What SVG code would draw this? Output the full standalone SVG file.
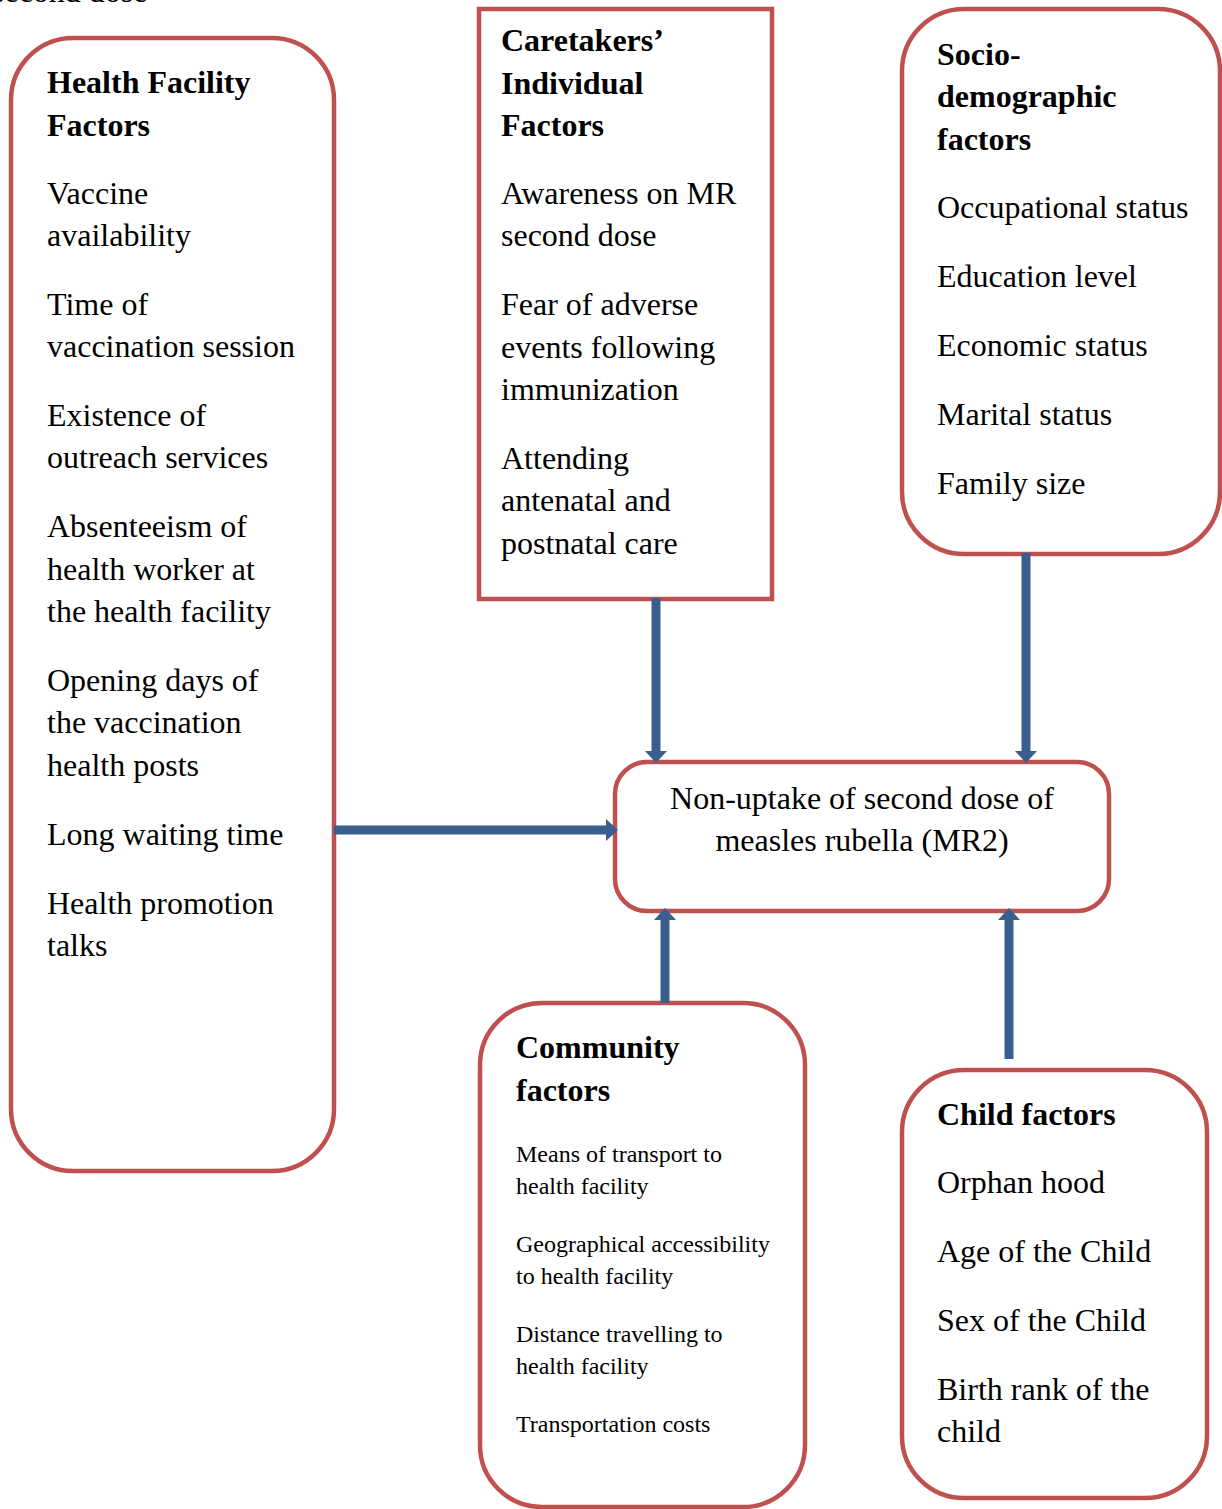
<svg xmlns="http://www.w3.org/2000/svg" width="1222" height="1509" viewBox="0 0 1222 1509">
<style>
.box{fill:#fff;stroke:#C0504D;stroke-width:4.5}
.t{font-family:"Liberation Serif","Times New Roman",serif;font-size:32px;fill:#000}
.b{font-weight:bold}
.s{font-size:24px}
.c{text-anchor:middle}
.arr{stroke:#3A5F8E;stroke-width:9;fill:none}
.head{fill:#3A5F8E}
</style>
<rect width="1222" height="1509" fill="#fff"/>
<text class="t" x="-8" y="2">second dose</text>

<g id="health-facility">
<rect class="box" x="11" y="38" width="323" height="1133" rx="62"/>
<text class="t b" x="47" y="93">Health Facility</text>
<text class="t b" x="47" y="136">Factors</text>
<text class="t" x="47" y="204">Vaccine</text>
<text class="t" x="47" y="246">availability</text>
<text class="t" x="47" y="315">Time of</text>
<text class="t" x="47" y="357">vaccination session</text>
<text class="t" x="47" y="426">Existence of</text>
<text class="t" x="47" y="468">outreach services</text>
<text class="t" x="47" y="537">Absenteeism of</text>
<text class="t" x="47" y="580">health worker at</text>
<text class="t" x="47" y="622">the health facility</text>
<text class="t" x="47" y="691">Opening days of</text>
<text class="t" x="47" y="733">the vaccination</text>
<text class="t" x="47" y="776">health posts</text>
<text class="t" x="47" y="845">Long waiting time</text>
<text class="t" x="47" y="914">Health promotion</text>
<text class="t" x="47" y="956">talks</text>
</g>

<g id="caretakers">
<rect class="box" x="479" y="9" width="293" height="590"/>
<text class="t b" x="501" y="51">Caretakers’</text>
<text class="t b" x="501" y="94">Individual</text>
<text class="t b" x="501" y="136">Factors</text>
<text class="t" x="501" y="204">Awareness on MR</text>
<text class="t" x="501" y="246">second dose</text>
<text class="t" x="501" y="315">Fear of adverse</text>
<text class="t" x="501" y="358">events following</text>
<text class="t" x="501" y="400">immunization</text>
<text class="t" x="501" y="469">Attending</text>
<text class="t" x="501" y="511">antenatal and</text>
<text class="t" x="501" y="554">postnatal care</text>
</g>

<g id="socio-demographic">
<rect class="box" x="902" y="9" width="318" height="545" rx="62"/>
<text class="t b" x="937" y="65">Socio-</text>
<text class="t b" x="937" y="107">demographic</text>
<text class="t b" x="937" y="150">factors</text>
<text class="t" x="937" y="218">Occupational status</text>
<text class="t" x="937" y="287">Education level</text>
<text class="t" x="937" y="356">Economic status</text>
<text class="t" x="937" y="425">Marital status</text>
<text class="t" x="937" y="494">Family size</text>
</g>

<g id="outcome">
<rect class="box" x="615" y="762" width="494" height="149" rx="32"/>
<text class="t c" x="862" y="809">Non-uptake of second dose of</text>
<text class="t c" x="862" y="851">measles rubella (MR2)</text>
</g>

<g id="community">
<rect class="box" x="480" y="1003" width="325" height="504" rx="62"/>
<text class="t b" x="516" y="1058">Community</text>
<text class="t b" x="516" y="1101">factors</text>
<text class="t s" x="516" y="1162">Means of transport to</text>
<text class="t s" x="516" y="1194">health facility</text>
<text class="t s" x="516" y="1252">Geographical accessibility</text>
<text class="t s" x="516" y="1284">to health facility</text>
<text class="t s" x="516" y="1342">Distance travelling to</text>
<text class="t s" x="516" y="1374">health facility</text>
<text class="t s" x="516" y="1432">Transportation costs</text>
</g>

<g id="child">
<rect class="box" x="902" y="1070" width="305" height="428" rx="62"/>
<text class="t b" x="937" y="1125">Child factors</text>
<text class="t" x="937" y="1193">Orphan hood</text>
<text class="t" x="937" y="1262">Age of the Child</text>
<text class="t" x="937" y="1331">Sex of the Child</text>
<text class="t" x="937" y="1400">Birth rank of the</text>
<text class="t" x="937" y="1442">child</text>
</g>

<g id="connectors">
<line class="arr" x1="656" y1="598" x2="656" y2="752"/>
<polygon class="head" points="645,751 667,751 656,763"/>
<line class="arr" x1="1026" y1="553" x2="1026" y2="752"/>
<polygon class="head" points="1015,751 1037,751 1026,763"/>
<line class="arr" x1="334" y1="830" x2="607" y2="830"/>
<polygon class="head" points="606,819 606,841 618,830"/>
<line class="arr" x1="665" y1="1003" x2="665" y2="919"/>
<polygon class="head" points="654,920 676,920 665,908"/>
<line class="arr" x1="1009" y1="1059" x2="1009" y2="919"/>
<polygon class="head" points="998,920 1020,920 1009,908"/>
</g>
</svg>
